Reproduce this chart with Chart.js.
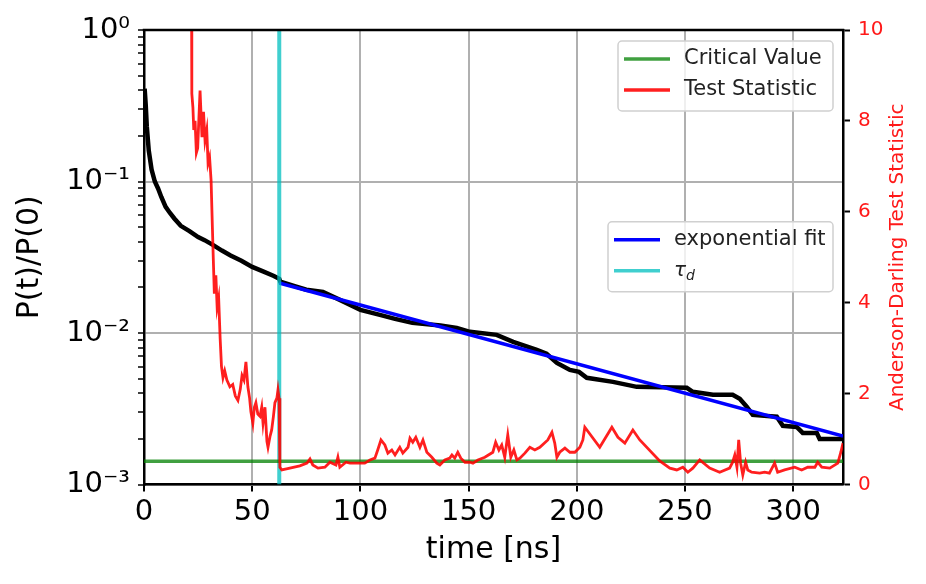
<!DOCTYPE html>
<html>
<head>
<meta charset="utf-8">
<script src="https://cdn.jsdelivr.net/npm/chart.js"></script>
<style>
  html, body { margin: 0; padding: 0; background: #fff; }
  #chart { display: block; }
</style>
</head>
<body>
<canvas id="chart" width="926" height="584"></canvas>
<script>
// survival probability P(t)/P(0)
const T_DECAY = [0.3, 0.8, 1.3, 2.2, 3.5, 5, 6.5, 8, 10, 12, 14, 17, 21, 25, 28, 32, 36, 40, 45, 50,
  55, 60, 62.5, 63, 70, 75, 82.7, 90.5, 100, 109, 116, 124, 137, 144.5, 150.6, 163, 170.6, 181.5, 186, 190.8,
  196.8, 201, 204.6, 216.7, 227.7, 250.8, 253.6, 262.9, 272, 275.3, 278.5, 281.3, 292.4, 295.2, 301.6, 304.4, 310.9, 312.2, 323];
const P_DECAY = [0.41, 0.32, 0.23, 0.16, 0.12, 0.10, 0.09, 0.079, 0.068, 0.062, 0.057, 0.051, 0.047, 0.043, 0.041, 0.038, 0.035, 0.0325, 0.030, 0.0273,
  0.0255, 0.0238, 0.0228, 0.0218, 0.0203, 0.0193, 0.01866, 0.01655, 0.01422, 0.01318, 0.0124, 0.01167, 0.0112, 0.01081, 0.01018, 0.00972, 0.00874, 0.00774, 0.0073, 0.00635,
  0.00571, 0.00554, 0.00506, 0.00476, 0.00441, 0.00435, 0.00409, 0.00391, 0.00391, 0.00368, 0.00326, 0.00288, 0.00280, 0.00244, 0.00240, 0.00219, 0.00219, 0.00200, 0.00200];

// exponential fit (end points) and tau_d
const FIT_T = [62.5, 323];
const FIT_P = [0.0214, 0.00209];
const TAU_D = 62.5;

// Anderson-Darling test statistic
const T_AD = [21.9, 22.1, 22.6, 23.0, 23.6, 24.2, 24.8, 25.9, 26.8, 27.5,
  28.2, 29.0, 29.6, 30.3, 31.0, 31.6, 32.0, 32.5, 33.2, 33.8,
  34.5, 35.2, 35.8, 36.5, 37.3, 38.3, 39.7, 41.0, 42.2, 43.4,
  44.5, 45.3, 46.2, 47.1, 48.0, 48.8, 49.4, 50.3, 51.0, 51.7,
  52.6, 53.6, 54.4, 55.0, 55.9, 56.8, 57.3, 58.2, 59.0, 59.8,
  60.5, 61.4, 61.9, 62.4, 62.8, 63.7, 67.4, 72, 75.3, 76.7,
  78, 80.4, 83.6, 85.9, 88.7, 89.6, 90.5, 93.3, 95.2, 98.4,
  102, 104.4, 106.7, 108, 109.5, 111.3, 112.7, 114.5, 116, 118.2,
  119.6, 122, 122.9, 124.2, 125.6, 127.5, 128.9, 130.7, 133, 135.3,
  136.7, 139, 141.3, 142.3, 143.6, 145, 146.4, 148.3, 150.6, 152,
  154.3, 157.5, 161.2, 162.5, 164, 165.3, 166.7, 168.1, 169.5, 170.9,
  172.3, 173.7, 176, 178.3, 180.6, 182.9, 186.6, 188.5, 189.8, 190.8,
  192.1, 194.5, 196.8, 199.1, 201.4, 202.8, 203.7, 210.6, 216.2, 219,
  222.2, 225.9, 229.1, 238.3, 243, 246.2, 249, 251.3, 253.6, 256.8,
  261.4, 266, 270.6, 272, 273, 274, 274.8, 275.7, 276.7, 278,
  279, 280.8, 284.5, 286.8, 289, 291.4, 292.8, 296, 300.7, 303.9,
  306.7, 310, 311.3, 313.2, 316.9, 320.6, 322, 323];
const AD_STAT = [12, 8.6, 8.3, 7.8, 8.0, 7.3, 7.4, 8.67, 7.64, 8.2,
  7.57, 7.8, 7.07, 7.2, 6.69, 5.66, 5.0, 4.2, 4.6, 3.9,
  4.1, 3.2, 2.6, 2.35, 2.5, 2.3, 2.15, 2.2, 1.95, 1.85,
  2.1, 2.4, 2.3, 2.7, 2.15, 1.9, 1.6, 1.35, 1.7, 1.8,
  1.55, 1.5, 1.7, 1.35, 1.7, 0.95, 0.82, 1.05, 1.2, 1.5,
  1.8, 1.9, 2.08, 1.9, 0.38, 0.32, 0.36, 0.41, 0.47, 0.56,
  0.43, 0.36, 0.38, 0.49, 0.43, 0.60, 0.38, 0.49, 0.47, 0.47,
  0.47, 0.54, 0.58, 0.76, 0.98, 0.87, 0.69, 0.76, 0.65, 0.82,
  0.69, 0.82, 1.02, 0.93, 1.04, 0.82, 0.98, 0.71, 0.60, 0.47,
  0.43, 0.54, 0.58, 0.65, 0.58, 0.71, 0.58, 0.49, 0.49, 0.47,
  0.54, 0.60, 0.71, 0.93, 0.76, 0.87, 0.60, 1.09, 0.60, 0.76,
  0.54, 0.58, 0.69, 0.82, 0.76, 0.82, 0.98, 1.15, 0.91, 0.60,
  0.71, 0.80, 0.71, 0.71, 0.82, 0.98, 1.26, 0.82, 1.26, 1.04,
  0.91, 1.20, 0.98, 0.52, 0.36, 0.32, 0.38, 0.27, 0.36, 0.54,
  0.36, 0.27, 0.36, 0.49, 0.65, 0.38, 0.98, 0.47, 0.21, 0.49,
  0.32, 0.27, 0.25, 0.27, 0.25, 0.47, 0.27, 0.32, 0.38, 0.32,
  0.38, 0.38, 0.49, 0.38, 0.36, 0.47, 0.71, 0.91];
const CRITICAL_VALUE = 0.51;

// axes
const X_MAX = 323;
const X_TICKS = [0, 50, 100, 150, 200, 250, 300];
const Y_DECADES = [0.001, 0.01, 0.1, 1];
const Y_LABELS = ['10\u207B\u00B3', '10\u207B\u00B2', '10\u207B\u00B9', '10\u2070'];
const AD_TICKS = [0, 2, 4, 6, 8, 10];

const FONT = "'DejaVu Sans', sans-serif";
const toXY = (xs, ys) => xs.map((x, i) => ({ x: x, y: ys[i] }));
const decadeIndex = v => Y_DECADES.findIndex(d => Math.abs(v - d) / d < 1e-6);

// top spine
const frame = {
  id: 'frame',
  afterDraw(chart) {
    const { ctx, chartArea: a } = chart;
    ctx.save();
    ctx.strokeStyle = '#000';
    ctx.lineWidth = 2.5;
    ctx.beginPath();
    ctx.moveTo(a.left - 1.25, a.top);
    ctx.lineTo(a.right + 1.25, a.top);
    ctx.stroke();
    ctx.restore();
  }
};

// right axis title, reading bottom to top
const rightTitle = {
  id: 'rightTitle',
  afterDraw(chart) {
    const { ctx, chartArea: a } = chart;
    ctx.save();
    ctx.translate(898, (a.top + a.bottom) / 2);
    ctx.rotate(-Math.PI / 2);
    ctx.font = '20px ' + FONT;
    ctx.fillStyle = 'rgba(255,0,0,0.9)';
    ctx.textAlign = 'center';
    ctx.textBaseline = 'middle';
    ctx.fillText('Anderson-Darling Test Statistic', 0, 0);
    ctx.restore();
  }
};

// two legend boxes like matplotlib (one per axis)
const twoLegends = {
  id: 'twoLegends',
  afterDraw(chart) {
    const { ctx, chartArea: a } = chart;
    const ds = chart.data.datasets;
    const groups = [
      { items: [0, 1], top: a.top + 11, width: 215 },
      { items: [3, 4], top: (a.top + a.bottom) / 2 - 35.5, width: 225 }
    ];
    ctx.save();
    groups.forEach(g => {
      const h = 70, right = a.right - 10, left = right - g.width;
      ctx.beginPath();
      ctx.roundRect(left, g.top, g.width, h, 4);
      ctx.fillStyle = 'rgba(255,255,255,0.8)';
      ctx.fill();
      ctx.strokeStyle = '#d0d0d0';
      ctx.lineWidth = 1.5;
      ctx.stroke();
      g.items.forEach((idx, r) => {
        const y = g.top + 18 + r * 31;
        ctx.strokeStyle = ds[idx].borderColor;
        ctx.lineWidth = 3.5;
        ctx.beginPath();
        ctx.moveTo(left + 6, y);
        ctx.lineTo(left + 52, y);
        ctx.stroke();
        ctx.fillStyle = '#222';
        ctx.textBaseline = 'middle';
        ctx.textAlign = 'left';
        const parts = ds[idx].label.split('_');
        if (parts.length > 1) {
          ctx.font = 'italic 20px ' + FONT;
          ctx.fillText(parts[0], left + 66, y);
          const w = ctx.measureText(parts[0]).width;
          ctx.font = 'italic 14px ' + FONT;
          ctx.fillText(parts[1], left + 66 + w, y + 6);
        } else {
          ctx.font = '21px ' + FONT;
          ctx.fillText(parts[0], left + 66, y);
        }
      });
    });
    ctx.restore();
  }
};

new Chart(document.getElementById('chart'), {
  type: 'line',
  data: {
    datasets: [
      {
        label: 'Critical Value',
        data: toXY([0, X_MAX], [CRITICAL_VALUE, CRITICAL_VALUE]),
        yAxisID: 'yAD',
        borderColor: 'rgba(0,128,0,0.75)',
        borderWidth: 3.5,
        order: 1
      },
      {
        label: 'Test Statistic',
        data: toXY(T_AD, AD_STAT),
        yAxisID: 'yAD',
        borderColor: 'rgba(255,0,0,0.88)',
        borderWidth: 2.8,
        order: 0
      },
      {
        label: 'P(t)/P(0)',
        data: toXY(T_DECAY, P_DECAY),
        yAxisID: 'y',
        borderColor: '#000',
        borderWidth: 4.5,
        order: 4
      },
      {
        label: 'exponential fit',
        data: toXY(FIT_T, FIT_P),
        yAxisID: 'y',
        borderColor: '#0000ff',
        borderWidth: 3.5,
        order: 3
      },
      {
        label: '\u03C4_d',
        data: toXY([TAU_D, TAU_D], [Y_DECADES[0], Y_DECADES[3]]),
        yAxisID: 'y',
        borderColor: 'rgba(0,191,191,0.75)',
        borderWidth: 4,
        order: 2
      }
    ]
  },
  options: {
    responsive: false,
    animation: false,
    devicePixelRatio: 1,
    layout: { padding: { top: 30, left: 0, right: 0, bottom: 0 } },
    elements: { point: { radius: 0 }, line: { tension: 0 } },
    plugins: { legend: { display: false }, tooltip: { enabled: false } },
    scales: {
      x: {
        type: 'linear',
        min: 0,
        max: X_MAX,
        afterBuildTicks: s => { s.ticks = X_TICKS.map(v => ({ value: v })); },
        afterFit: s => { s.height = 99.5; },
        ticks: { font: { family: FONT, size: 29 }, color: '#000', padding: 4, maxRotation: 0, autoSkip: false },
        grid: {
          color: c => (c.tick && c.tick.value === 0 ? 'rgba(0,0,0,0)' : '#b0b0b0'),
          lineWidth: 2,
          tickColor: '#000',
          tickLength: 7,
          tickWidth: 2
        },
        border: { color: '#000', width: 2.5 },
        title: {
          display: true,
          text: 'time [ns]',
          font: { family: FONT, size: 30 },
          color: '#000',
          padding: { top: 0, bottom: 16 }
        }
      },
      y: {
        type: 'logarithmic',
        position: 'left',
        min: 0.001,
        max: 1,
        afterBuildTicks: s => {
          const t = [];
          Y_DECADES.forEach((d, i) => {
            t.push({ value: d });
            if (i < Y_DECADES.length - 1) {
              for (let k = 2; k <= 9; k++) t.push({ value: d * k });
            }
          });
          s.ticks = t;
        },
        afterFit: s => { s.width = 144; },
        ticks: {
          autoSkip: false,
          font: { family: FONT, size: 29 },
          color: '#000',
          padding: 8,
          callback: v => { const i = decadeIndex(v); return i >= 0 ? Y_LABELS[i] : ''; }
        },
        grid: {
          color: c => (c.tick && decadeIndex(c.tick.value) >= 0 ? '#b0b0b0' : 'rgba(0,0,0,0)'),
          lineWidth: 2,
          tickColor: '#000',
          tickLength: 6,
          tickWidth: 1.5
        },
        border: { color: '#000', width: 2.5 },
        title: {
          display: true,
          text: 'P(t)/P(0)',
          font: { family: FONT, size: 30 },
          color: '#000',
          padding: { top: 12, bottom: 0 }
        }
      },
      yAD: {
        type: 'linear',
        position: 'right',
        min: 0,
        max: 10,
        afterBuildTicks: s => { s.ticks = AD_TICKS.map(v => ({ value: v })); },
        afterFit: s => { s.width = 83; },
        ticks: { font: { family: FONT, size: 20 }, color: 'rgba(255,0,0,0.9)', padding: 8 },
        grid: { drawOnChartArea: false, tickColor: '#000', tickLength: 7, tickWidth: 2 },
        border: { color: '#000', width: 2.5 }
      }
    }
  },
  plugins: [frame, rightTitle, twoLegends]
});
</script>
</body>
</html>
